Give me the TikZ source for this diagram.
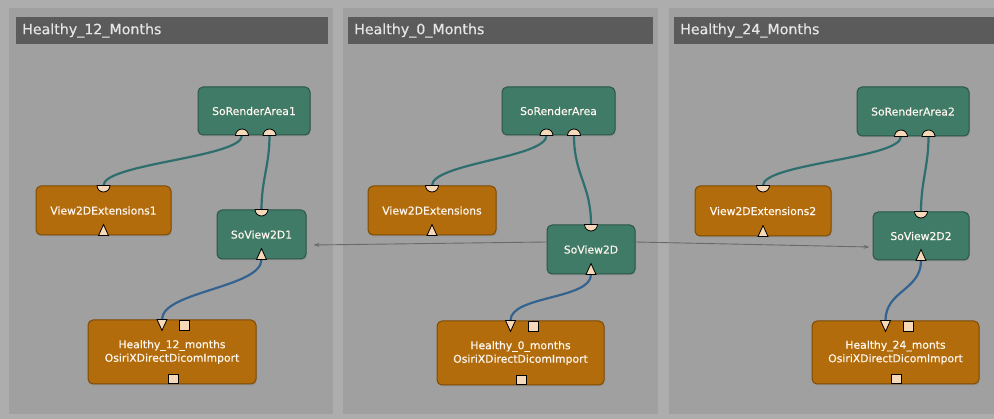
\documentclass[tikz,border=0pt]{standalone}
\usepackage{fontspec}
\setsansfont{DejaVu Sans}
\newfontfamily\modfont[FakeBold=0.35]{DejaVu Sans}
\usetikzlibrary{arrows.meta,shadows}

\definecolor{bggray}{HTML}{ADADAD}
\definecolor{panelgray}{HTML}{A0A0A0}
\definecolor{bargray}{HTML}{5B5B5B}
\definecolor{sogreen}{HTML}{3F7B67}
\definecolor{sogreenline}{HTML}{2A5547}
\definecolor{mlorange}{HTML}{B36C0B}
\definecolor{mlorangeline}{HTML}{7E4B05}
\definecolor{portfill}{HTML}{F6D9B8}
\definecolor{tealwire}{HTML}{2F6E6E}
\definecolor{bluewire}{HTML}{35638F}
\definecolor{linkgray}{HTML}{6A6A6A}

\tikzset{
  panel/.style={fill=panelgray, draw=bggray, line width=1pt},
  titlebar/.style={fill=bargray, text=white!90!black, anchor=west, align=left,
    font=\modfont\fontsize{14.2}{16}\selectfont, inner xsep=6pt, minimum height=27pt},
  module/.style={rounded corners=5pt, draw, line width=1pt, align=center, inner sep=0pt,
    font=\modfont\fontsize{10.8}{13.5}\selectfont, text=white!94!orange,
    drop shadow={opacity=0.35, shadow xshift=1pt, shadow yshift=-1.5pt}},
  sobox/.style={module, fill=sogreen, draw=sogreenline},
  mlbox/.style={module, fill=mlorange, draw=mlorangeline},
  port/.style={fill=portfill, draw=black, line width=0.8pt},
  wire/.style={line width=2.2pt, line cap=round},
  link/.style={linkgray, line width=0.9pt, -{Stealth[length=6pt,width=4pt]}},
  inhalf/.pic={\filldraw[port] (-6.5,0) arc (180:0:6.5) -- cycle;},
  outhalf/.pic={\filldraw[port] (-6.5,0) arc (180:360:6.5) -- cycle;},
  intri/.pic={\filldraw[port] (-5,0) -- (0,11) -- (5,0) -- cycle;},
  outtri/.pic={\filldraw[port] (-5,0) -- (0,-11) -- (5,0) -- cycle;},
  insq/.pic={\filldraw[port] (-5,1) rectangle (5,11);},
  outsq/.pic={\filldraw[port] (-5,-1) rectangle (5,-10);}
}

\begin{document}
\begin{tikzpicture}[x=1pt,y=-1pt]
  \fill[bggray] (0,0) rectangle (994,419);
  \useasboundingbox (0,0) rectangle (994,419);

  \draw[panel] (8,8) rectangle (333,415);
  \draw[panel] (342,8) rectangle (658,415);
  \draw[panel] (668,8) rectangle (1000,415);
  \node[titlebar,text width=300pt] (t12) at (16,30.5) {Healthy\_12\_Months};
  \node[titlebar,text width=293pt] (t0) at (348,30.5) {Healthy\_0\_Months};
  \node[titlebar,text width=320pt] (t24) at (674,30.5) {Healthy\_24\_Months};

  \node[sobox,minimum width=112pt,minimum height=48pt] (ra1) at (254,111) {SoRenderArea1};
  \node[mlbox,minimum width=135pt,minimum height=49pt] (v1) at (103.5,210.5) {View2DExtensions1};
  \node[sobox,minimum width=89pt,minimum height=49pt] (sv1) at (261.5,234.5) {SoView2D1};
  \node[mlbox,minimum width=168pt,minimum height=64pt] (imp1) at (172,352) {Healthy\_12\_months\\OsiriXDirectDicomImport};

  \node[sobox,minimum width=113pt,minimum height=48pt] (ra0) at (558.5,111) {SoRenderArea};
  \node[mlbox,minimum width=128pt,minimum height=49pt] (v0) at (432,210.5) {View2DExtensions};
  \node[sobox,minimum width=88pt,minimum height=49pt] (sv0) at (591,249.5) {SoView2D};
  \node[mlbox,minimum width=167pt,minimum height=64pt] (imp0) at (520.5,353) {Healthy\_0\_months\\OsiriXDirectDicomImport};

  \node[sobox,minimum width=112pt,minimum height=49pt] (ra2) at (913,111.5) {SoRenderArea2};
  \node[mlbox,minimum width=136pt,minimum height=50pt] (v2) at (763,211) {View2DExtensions2};
  \node[sobox,minimum width=96pt,minimum height=48pt] (sv2) at (921,236) {SoView2D2};
  \node[mlbox,minimum width=167pt,minimum height=63pt] (imp2) at (895.5,352.5) {Healthy\_24\_monts\\OsiriXDirectDicomImport};

  \coordinate (ra1a) at ([xshift=-12pt]ra1.south);
  \coordinate (ra1b) at ([xshift=15.5pt]ra1.south);
  \coordinate (imp1in) at ([xshift=-10pt]imp1.north);
  \coordinate (imp1aux) at ([xshift=12.5pt]imp1.north);
  \coordinate (imp1out) at ([xshift=1pt]imp1.south);
  \coordinate (ra0a) at ([xshift=-12pt]ra0.south);
  \coordinate (ra0b) at ([xshift=15.5pt]ra0.south);
  \coordinate (imp0in) at ([xshift=-10pt]imp0.north);
  \coordinate (imp0aux) at ([xshift=12.5pt]imp0.north);
  \coordinate (imp0out) at ([xshift=1pt]imp0.south);
  \coordinate (ra2a) at ([xshift=-12pt]ra2.south);
  \coordinate (ra2b) at ([xshift=15.5pt]ra2.south);
  \coordinate (imp2in) at ([xshift=-10pt]imp2.north);
  \coordinate (imp2aux) at ([xshift=12.5pt]imp2.north);
  \coordinate (imp2out) at ([xshift=1pt]imp2.south);

  \draw[wire,tealwire] (ra1a) .. controls +(0,22) and +(0,-22) .. (v1.north);
  \draw[wire,tealwire] (ra1b) .. controls +(0,30) and +(0,-30) .. (sv1.north);
  \draw[wire,bluewire] (sv1.south) .. controls +(0,28) and +(0,-28) .. (imp1in);
  \draw[wire,tealwire] (ra0a) .. controls +(0,22) and +(0,-22) .. (v0.north);
  \draw[wire,tealwire] (ra0b) .. controls +(0,40) and +(0,-40) .. (sv0.north);
  \draw[wire,bluewire] (sv0.south) .. controls +(0,25) and +(0,-25) .. (imp0in);
  \draw[wire,tealwire] (ra2a) .. controls +(0,22) and +(0,-22) .. (v2.north);
  \draw[wire,tealwire] (ra2b) .. controls +(0,30) and +(0,-30) .. (sv2.north);
  \draw[wire,bluewire] (sv2.south) .. controls +(0,30) and +(0,-30) .. (imp2in);

  \pic at (ra1a) {outhalf};
  \pic at (ra1b) {outhalf};
  \pic at (v1.north) {inhalf};
  \pic at (v1.south) {outtri};
  \pic at (sv1.north) {inhalf};
  \pic at (sv1.south) {outtri};
  \pic at (imp1in) {intri};
  \pic at (imp1aux) {insq};
  \pic at (imp1out) {outsq};

  \pic at (ra0a) {outhalf};
  \pic at (ra0b) {outhalf};
  \pic at (v0.north) {inhalf};
  \pic at (v0.south) {outtri};
  \pic at (sv0.north) {inhalf};
  \pic at (sv0.south) {outtri};
  \pic at (imp0in) {intri};
  \pic at (imp0aux) {insq};
  \pic at (imp0out) {outsq};

  \pic at (ra2a) {outhalf};
  \pic at (ra2b) {outhalf};
  \pic at (v2.north) {inhalf};
  \pic at (v2.south) {outtri};
  \pic at (sv2.north) {inhalf};
  \pic at (sv2.south) {outtri};
  \pic at (imp2in) {intri};
  \pic at (imp2aux) {insq};
  \pic at (imp2out) {outsq};

  \draw[link] ([yshift=7.5pt]sv0.west) -- ([xshift=7pt,yshift=-10.5pt]sv1.east);
  \draw[link] ([yshift=7.5pt]sv0.east) -- ([xshift=-3pt,yshift=-11pt]sv2.west);
\end{tikzpicture}
\end{document}
